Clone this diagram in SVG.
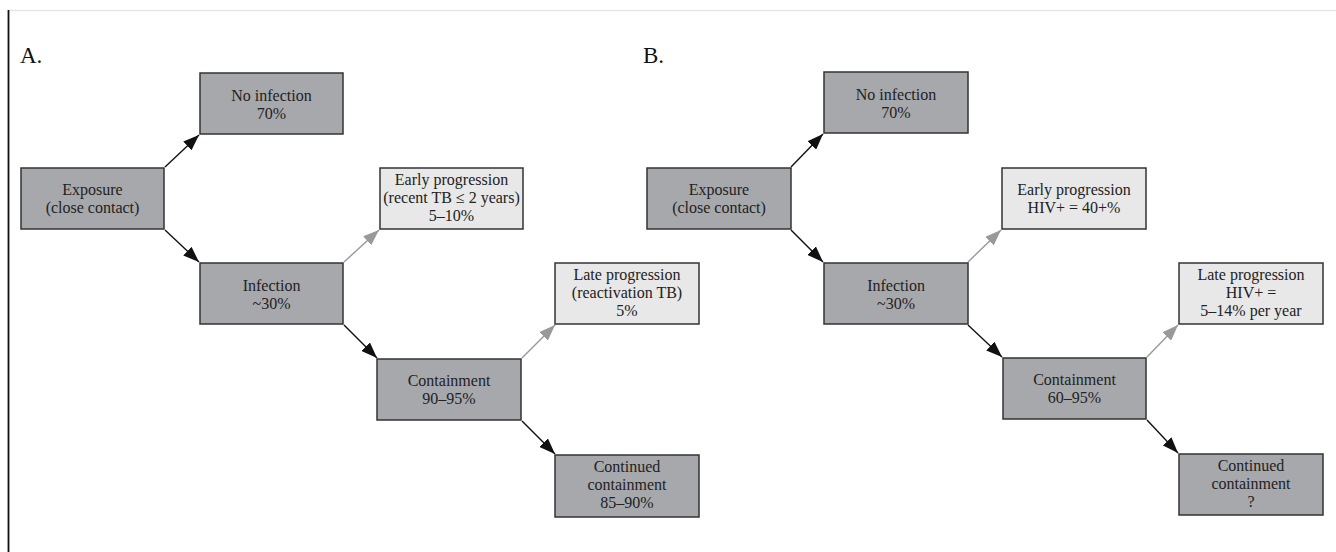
<svg xmlns="http://www.w3.org/2000/svg" width="1336" height="552" viewBox="0 0 1336 552">
  <style>
    .dark { fill: #a7a8ab; stroke: #333333; stroke-width: 1.5; }
    .light { fill: #e8e8e8; stroke: #333333; stroke-width: 1.5; }
    .t { font-family: "Liberation Serif", "Times New Roman", serif; font-size: 16px; fill: #222222; text-anchor: middle; }
    .lbl { font-family: "Liberation Serif", "Times New Roman", serif; font-size: 23px; fill: #111111; }
    .blk { stroke: #111111; stroke-width: 1.4; fill: none; marker-end: url(#ab); }
    .gry { stroke: #999999; stroke-width: 1.4; fill: none; marker-end: url(#ag); }
  </style>
  <defs>
    <marker id="ab" markerUnits="userSpaceOnUse" markerWidth="16" markerHeight="12" viewBox="0 0 16 12" refX="16" refY="6" orient="auto">
      <path d="M0,0 L16,6 L0,12 Z" fill="#111111"/>
    </marker>
    <marker id="ag" markerUnits="userSpaceOnUse" markerWidth="16" markerHeight="12" viewBox="0 0 16 12" refX="16" refY="6" orient="auto">
      <path d="M0,0 L16,6 L0,12 Z" fill="#999999"/>
    </marker>
  </defs>
  <rect width="1336" height="552" fill="#ffffff"/>
  <line x1="8" y1="10.5" x2="1336" y2="10.5" stroke="#e6e6e6" stroke-width="1.5"/>
  <line x1="8.5" y1="10" x2="8.5" y2="552" stroke="#111111" stroke-width="1.8"/>

  <text class="lbl" x="20" y="63">A.</text>
  <text class="lbl" x="643" y="63">B.</text>

  <g id="connectors">
    <line class="blk" x1="165" y1="167" x2="199" y2="135"/>
    <line class="blk" x1="165" y1="230" x2="199" y2="262"/>
    <line class="gry" x1="344" y1="262" x2="379" y2="230"/>
    <line class="blk" x1="344" y1="325" x2="377" y2="358"/>
    <line class="gry" x1="522" y1="358" x2="555" y2="325"/>
    <line class="blk" x1="522" y1="421" x2="555" y2="454"/>

    <line class="blk" x1="791" y1="167" x2="823" y2="134"/>
    <line class="blk" x1="791" y1="230" x2="823" y2="262"/>
    <line class="gry" x1="968" y1="262" x2="1001" y2="230"/>
    <line class="blk" x1="968" y1="325" x2="1002" y2="357"/>
    <line class="gry" x1="1147" y1="357" x2="1178" y2="325"/>
    <line class="blk" x1="1147" y1="420" x2="1178" y2="453"/>
  </g>

  <!-- Panel A -->
  <g id="a-noinf">
    <rect class="dark" x="200" y="73" width="143" height="61"/>
    <text class="t" x="271.5" y="100.5">No infection</text>
    <text class="t" x="271.5" y="118.5">70%</text>
  </g>
  <g id="a-exposure">
    <rect class="dark" x="21" y="168" width="143" height="61"/>
    <text class="t" x="92.5" y="195">Exposure</text>
    <text class="t" x="92.5" y="213">(close contact)</text>
  </g>
  <g id="a-early">
    <rect class="light" x="380" y="168" width="143" height="61"/>
    <text class="t" x="451.5" y="185">Early progression</text>
    <text class="t" x="451.5" y="203">(recent TB ≤ 2 years)</text>
    <text class="t" x="451.5" y="221">5–10%</text>
  </g>
  <g id="a-infection">
    <rect class="dark" x="200" y="263" width="143" height="61"/>
    <text class="t" x="271.5" y="290.5">Infection</text>
    <text class="t" x="271.5" y="308.5">~30%</text>
  </g>
  <g id="a-late">
    <rect class="light" x="555" y="263" width="144" height="61"/>
    <text class="t" x="627" y="280">Late progression</text>
    <text class="t" x="627" y="298">(reactivation TB)</text>
    <text class="t" x="627" y="316">5%</text>
  </g>
  <g id="a-containment">
    <rect class="dark" x="377" y="359" width="144" height="61"/>
    <text class="t" x="449" y="386">Containment</text>
    <text class="t" x="449" y="404">90–95%</text>
  </g>
  <g id="a-continued">
    <rect class="dark" x="555" y="455" width="144" height="62"/>
    <text class="t" x="627" y="472">Continued</text>
    <text class="t" x="627" y="490">containment</text>
    <text class="t" x="627" y="508">85–90%</text>
  </g>

  <!-- Panel B -->
  <g id="b-noinf">
    <rect class="dark" x="824" y="72" width="144" height="61"/>
    <text class="t" x="896" y="99.5">No infection</text>
    <text class="t" x="896" y="117.5">70%</text>
  </g>
  <g id="b-exposure">
    <rect class="dark" x="647" y="168" width="144" height="61"/>
    <text class="t" x="719" y="195">Exposure</text>
    <text class="t" x="719" y="213">(close contact)</text>
  </g>
  <g id="b-early">
    <rect class="light" x="1002" y="168" width="144" height="61"/>
    <text class="t" x="1074" y="195">Early progression</text>
    <text class="t" x="1074" y="213">HIV+ = 40+%</text>
  </g>
  <g id="b-infection">
    <rect class="dark" x="824" y="263" width="144" height="61"/>
    <text class="t" x="896" y="290.5">Infection</text>
    <text class="t" x="896" y="308.5">~30%</text>
  </g>
  <g id="b-late">
    <rect class="light" x="1179" y="263" width="144" height="61"/>
    <text class="t" x="1251" y="280">Late progression</text>
    <text class="t" x="1251" y="298">HIV+ =</text>
    <text class="t" x="1251" y="316">5–14% per year</text>
  </g>
  <g id="b-containment">
    <rect class="dark" x="1003" y="358" width="143" height="61"/>
    <text class="t" x="1074.5" y="385">Containment</text>
    <text class="t" x="1074.5" y="403">60–95%</text>
  </g>
  <g id="b-continued">
    <rect class="dark" x="1179" y="454" width="144" height="61"/>
    <text class="t" x="1251" y="471">Continued</text>
    <text class="t" x="1251" y="489">containment</text>
    <text class="t" x="1251" y="507">?</text>
  </g>
</svg>
